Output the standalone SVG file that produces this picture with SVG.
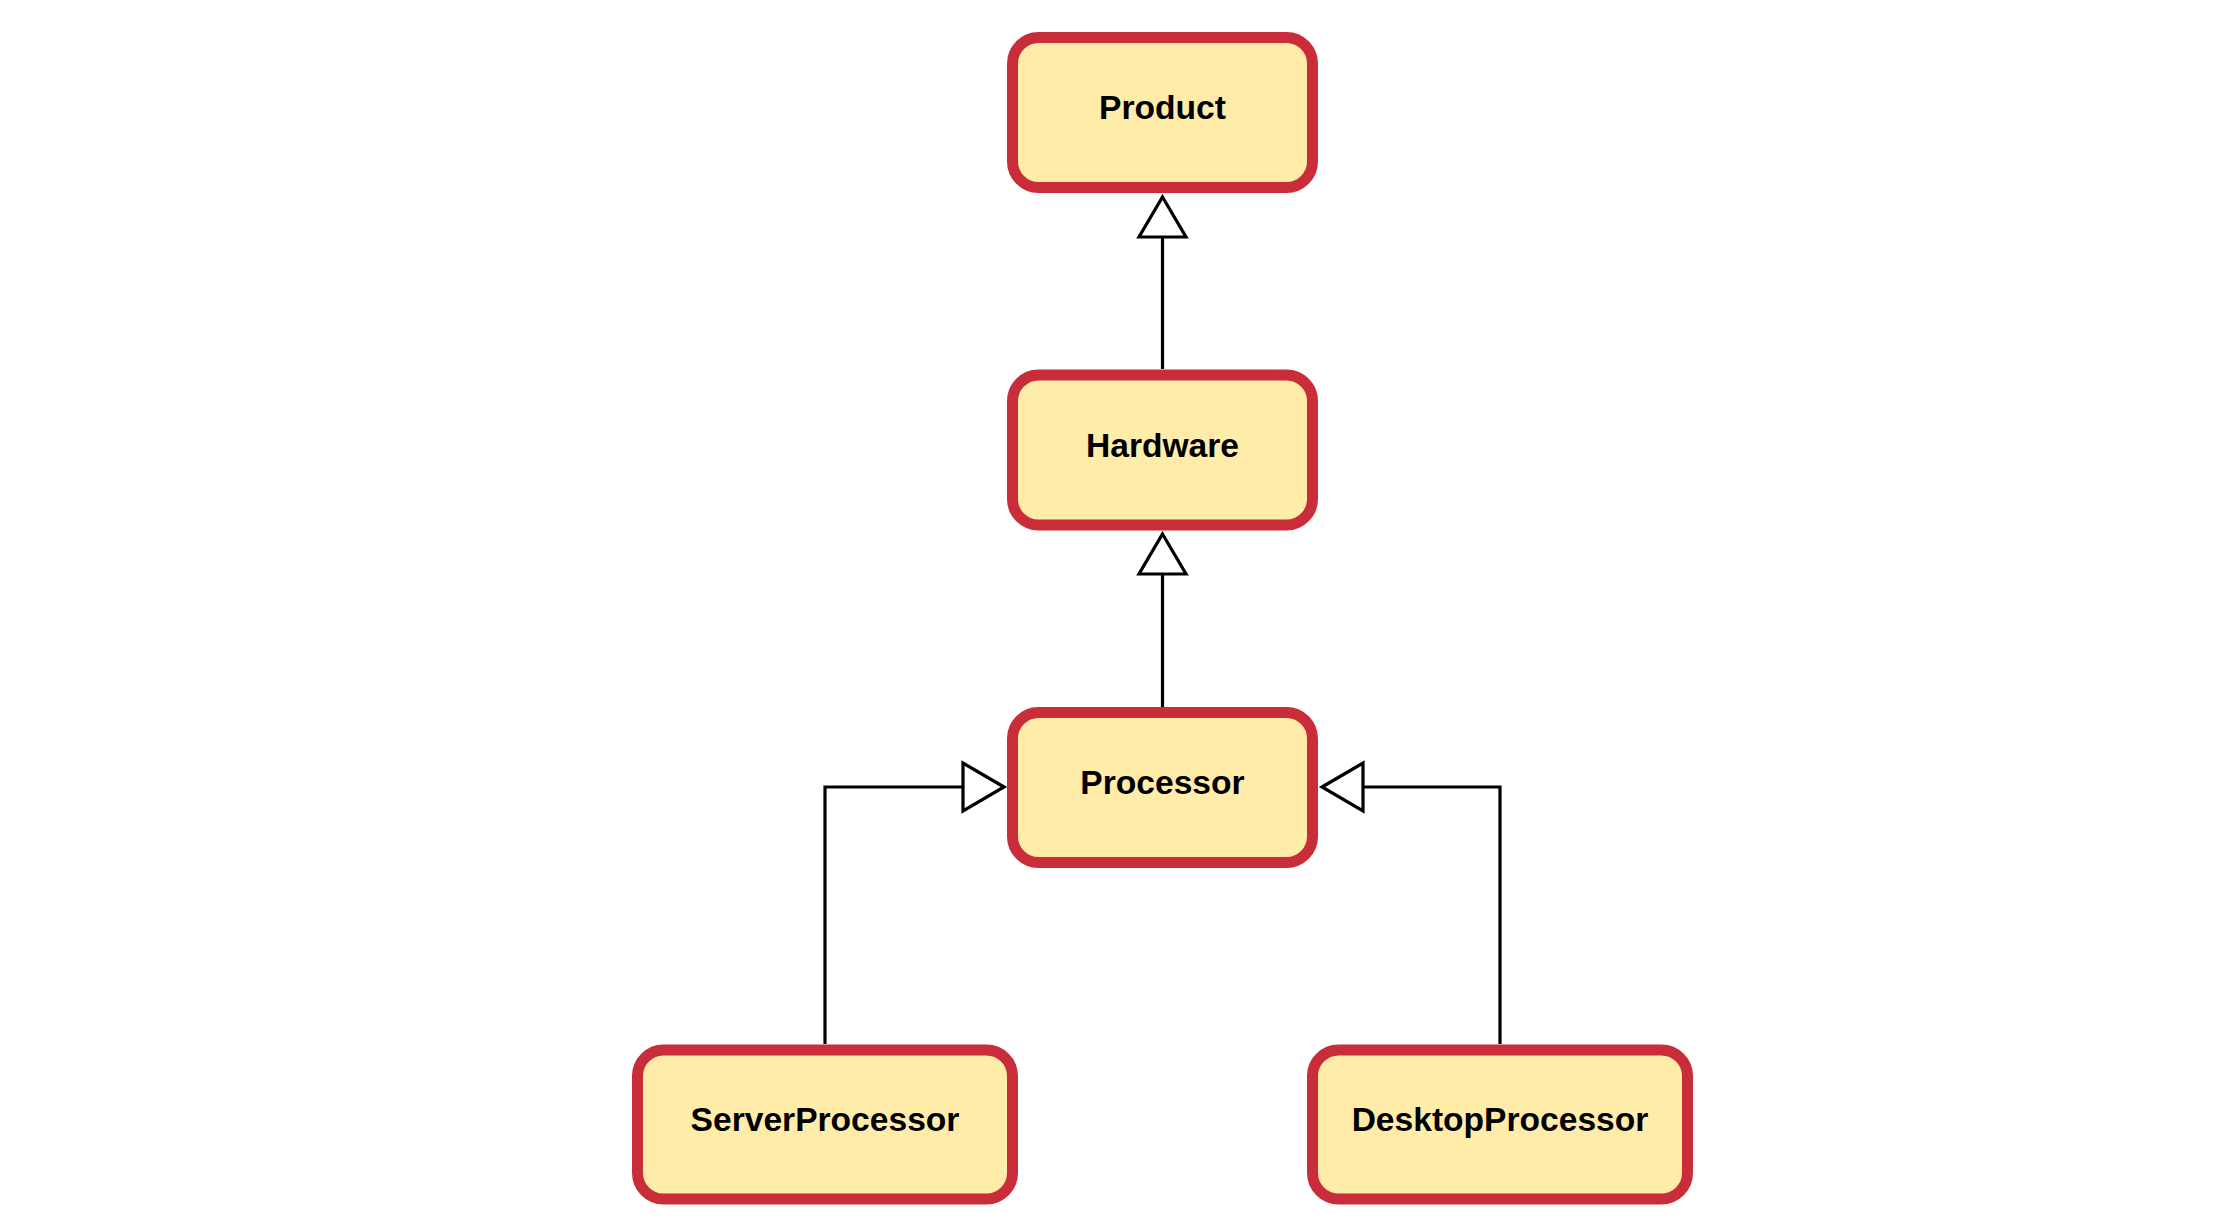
<svg xmlns="http://www.w3.org/2000/svg" width="2239" height="1230" viewBox="0 0 2239 1230">
<style>
.box{fill:#ffeca9;stroke:#c92d39;stroke-width:11}
.lbl{font-family:"Liberation Sans",Arial,sans-serif;font-weight:bold;font-size:33.6px;fill:#000;text-anchor:middle}
.conn{fill:none;stroke:#000;stroke-width:3.2}
.tri{fill:#fff;stroke:#000;stroke-width:3.2;stroke-linejoin:miter}
</style>
<rect width="2239" height="1230" fill="#fff"/>
<g id="connectors">
<path class="conn" d="M1162.5 369 V237"/>
<polygon class="tri" points="1162.5,197 1186,237 1139,237"/>
<path class="conn" d="M1162.5 707 V574"/>
<polygon class="tri" points="1162.5,534 1186,574 1139,574"/>
<path class="conn" d="M825 1044 V787 H963"/>
<polygon class="tri" points="1004,787 963,763 963,811"/>
<path class="conn" d="M1500 1044 V787 H1363"/>
<polygon class="tri" points="1322,787 1363,763 1363,811"/>
</g>
<g id="product">
<rect class="box" x="1012.5" y="37.5" width="300" height="150" rx="26"/>
<text class="lbl" x="1162.5" y="119">Product</text>
</g>
<g id="hardware">
<rect class="box" x="1012.5" y="375" width="300" height="150" rx="26"/>
<text class="lbl" x="1162.5" y="456.5">Hardware</text>
</g>
<g id="processor">
<rect class="box" x="1012.5" y="712.5" width="300" height="150" rx="26"/>
<text class="lbl" x="1162.5" y="794">Processor</text>
</g>
<g id="serverprocessor">
<rect class="box" x="637.5" y="1050" width="375" height="149" rx="26"/>
<text class="lbl" x="825" y="1131">ServerProcessor</text>
</g>
<g id="desktopprocessor">
<rect class="box" x="1312.5" y="1050" width="375" height="149" rx="26"/>
<text class="lbl" x="1500" y="1131">DesktopProcessor</text>
</g>
</svg>
